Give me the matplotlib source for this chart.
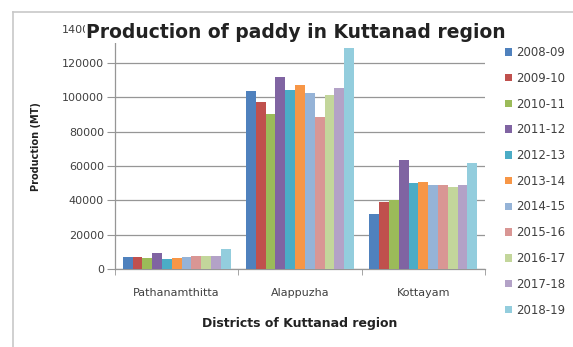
import matplotlib
matplotlib.use("Agg")
import matplotlib.pyplot as plt
from matplotlib.lines import Line2D
import numpy as np

districts = ["Pathanamthitta", "Alappuzha", "Kottayam"]
years = ["2008-09", "2009-10", "2010-11", "2011-12", "2012-13", "2013-14",
         "2014-15", "2015-16", "2016-17", "2017-18", "2018-19"]

# Paddy production (MT) per district, one list per year
prod_2008_09 = [7000, 103800, 32000]
prod_2009_10 = [7000, 97400, 39200]
prod_2010_11 = [6200, 90100, 40200]
prod_2011_12 = [9100, 112000, 63500]
prod_2012_13 = [5600, 104200, 50300]
prod_2013_14 = [6600, 107000, 50400]
prod_2014_15 = [7000, 102300, 48900]
prod_2015_16 = [7600, 88700, 48900]
prod_2016_17 = [7600, 101300, 47900]
prod_2017_18 = [7800, 105600, 48900]
prod_2018_19 = [11500, 128500, 61500]

series = [prod_2008_09, prod_2009_10, prod_2010_11, prod_2011_12, prod_2012_13,
          prod_2013_14, prod_2014_15, prod_2015_16, prod_2016_17, prod_2017_18,
          prod_2018_19]

colors = ["#4F81BD", "#C0504D", "#9BBB59", "#8064A2", "#4BACC6", "#F79646",
          "#95B3D7", "#D99694", "#C3D69B", "#B3A2C7", "#93CDDD"]

yticks = [0, 20000, 40000, 60000, 80000, 100000, 120000, 140000]

W, H = 573, 347
fig = plt.figure(figsize=(W / 100, H / 100), dpi=100)
fig.patch.set_facecolor("white")

# chart-area border (left and top edges visible)
fig.add_artist(Line2D([13 / W, 13 / W], [0, 1 - 12 / H], transform=fig.transFigure,
                      color="#C8C8C8", lw=1.2))
fig.add_artist(Line2D([13 / W, 1], [1 - 12 / H, 1 - 12 / H], transform=fig.transFigure,
                      color="#C8C8C8", lw=1.2))

ax = fig.add_axes([115 / W, (H - 269) / H, 370 / W, 240.4 / H])

n = len(series)
group = 0.875
bw = group / n
x = np.arange(len(districts))
for i, (vals, c) in enumerate(zip(series, colors)):
    ax.bar(x - group / 2 + bw * (i + 0.5), vals, width=bw, color=c,
           label=years[i], zorder=3, linewidth=0)

ax.set_xlim(-0.5, 2.5)
ax.set_ylim(0, 140000)
ax.set_yticks(yticks)
ax.set_yticklabels([str(v) for v in yticks])
ax.grid(axis="y", color="#969696", lw=0.9, zorder=0)
ax.set_axisbelow(True)

ax.set_xticks(x)
ax.set_xticklabels(districts)
ax.set_xticks([-0.5, 0.5, 1.5, 2.5], minor=True)
ax.tick_params(axis="x", which="major", length=0, pad=14, labelsize=8,
               labelcolor="#404040")
ax.tick_params(axis="x", which="minor", length=4, color="#969696", direction="out")
ax.tick_params(axis="y", length=6, color="#969696", labelsize=8,
               labelcolor="#404040", pad=2)

for s in ["top", "right"]:
    ax.spines[s].set_visible(False)
for s in ["left", "bottom"]:
    ax.spines[s].set_color("#969696")
    ax.spines[s].set_linewidth(0.9)

fig.text(296 / W, 1 - 33 / H, "Production of paddy in Kuttanad region",
         ha="center", va="center", fontsize=13.5, fontweight="bold",
         color="#222222",
         bbox=dict(facecolor="white", edgecolor="none", pad=0.5))

fig.text(300 / W, 1 - 323 / H, "Districts of Kuttanad region", ha="center",
         va="center", fontsize=9, fontweight="bold", color="#222222")
fig.text(36 / W, 1 - 147 / H, "Production (MT)", ha="center", va="center",
         rotation=90, fontsize=7, fontweight="bold", color="#222222")

leg = fig.legend(loc="upper left", bbox_to_anchor=(505 / W, 1 - 46 / H),
                 frameon=False, fontsize=8.5, handlelength=0.6, handleheight=0.6,
                 handletextpad=0.35, labelspacing=1.08, borderaxespad=0,
                 borderpad=0)
for t in leg.get_texts():
    t.set_color("#404040")

fig.savefig("out.png", dpi=100, facecolor="white")
